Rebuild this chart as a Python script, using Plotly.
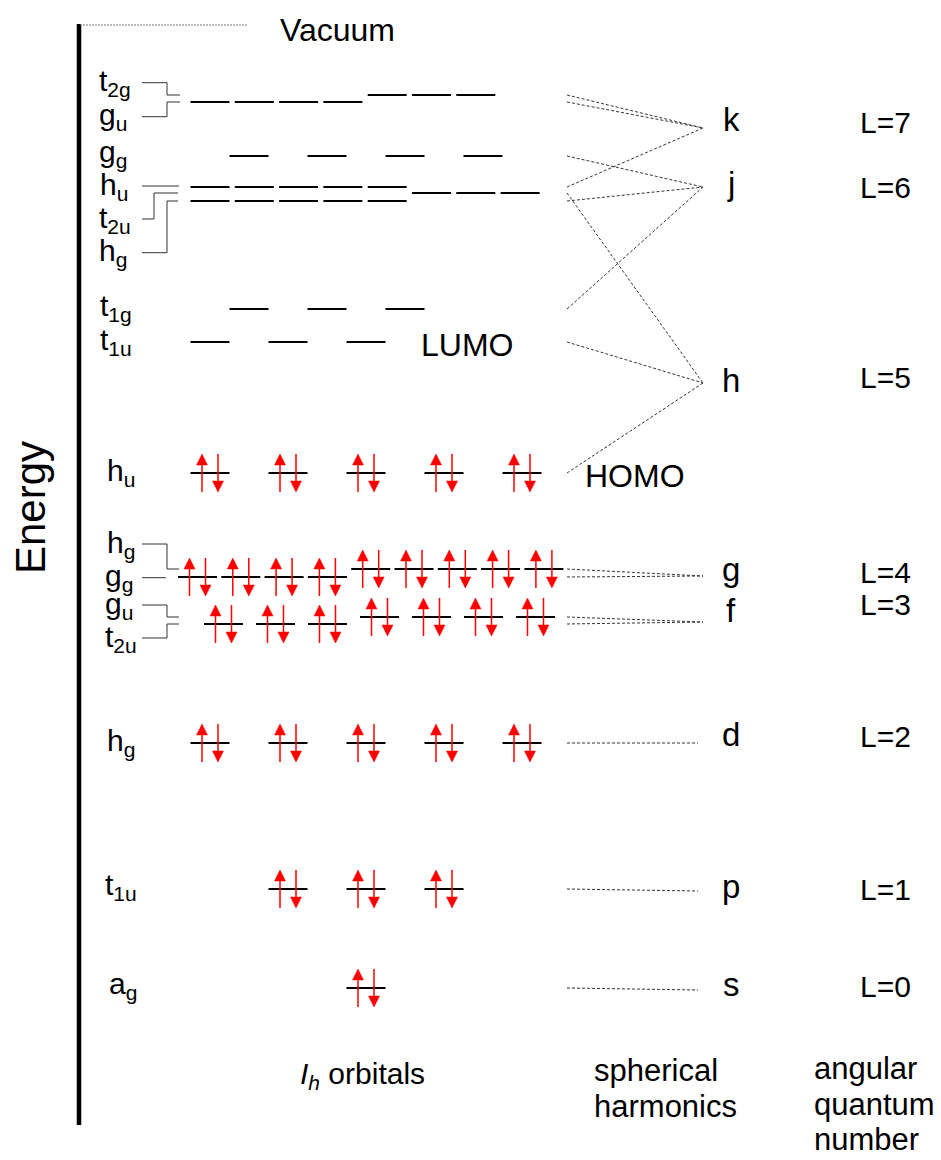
import plotly.graph_objects as go

# ---------------------------------------------------------------- data ----
# Ih molecular orbitals, bottom to top: label, energy (arbitrary units),
# degeneracy and whether the level is filled with an electron pair
orb_labels = ["a<sub>g</sub>", "t<sub>1u</sub>", "h<sub>g</sub>", "t<sub>2u</sub>",
              "g<sub>u</sub>", "g<sub>g</sub>", "h<sub>g</sub>", "h<sub>u</sub>",
              "t<sub>1u</sub>", "t<sub>1g</sub>", "h<sub>g</sub>", "t<sub>2u</sub>",
              "h<sub>u</sub>", "g<sub>g</sub>", "g<sub>u</sub>", "t<sub>2g</sub>"]
orb_energy = [17.2, 27.1, 41.7, 53.6, 54.3, 58.3, 59.1, 68.7,
              81.8, 85.1, 95.9, 96.7, 97.3, 100.4, 105.8, 106.5]
orb_degeneracy = [1, 3, 5, 3, 4, 4, 5, 5, 3, 3, 5, 3, 5, 4, 4, 3]
orb_occupied = [1, 1, 1, 1, 1, 1, 1, 1, 0, 0, 0, 0, 0, 0, 0, 0]
# spherical harmonic that each Ih level correlates with (index into sh_*)
orb_parent = [0, 1, 2, 3, 3, 4, 4, 5, 5, 6, 6, 5, 7, 6, 7, 7]

# spherical harmonics and their angular quantum numbers
sh_labels = ["s", "p", "d", "f", "g", "h", "j", "k"]
sh_L = [0, 1, 2, 3, 4, 5, 6, 7]
sh_energy = [17.0, 26.9, 41.7, 53.8, 58.4, 77.7, 97.3, 103.2]

vacuum_energy = 113.5
HOMO, LUMO = 7, 8

# -------------------------------------------------------------- layout ----
FIG_W, FIG_H = 941, 1160
PX_PER_E = 10.0
FONT = "Liberation Sans, Arial, sans-serif"


def ey(py):
    """page row -> energy coordinate (for placing text and connectors)"""
    return (FIG_H - py) / PX_PER_E


# slot grid for each level: (x of slot 0, slot pitch, first slot used)
orb_slots = [(210, 78, 2), (210, 78, 1), (210, 78, 0), (223.5, 52, 0),
             (223.5, 52, 3), (197.5, 43.3, 0), (197.5, 43.3, 4), (210, 78, 0),
             (210, 78, 0), (249, 78, 0), (210, 44.3, 0), (210, 44.3, 5),
             (210, 44.3, 0), (249, 78, 0), (210, 44.3, 0), (210, 44.3, 4)]
HALF = 19.5          # half length of a level bar
ARROW_DX = 8         # spin arrows offset from bar centre
ARROW_H = 1.9        # arrow half height (energy units)
HEAD_H = 1.1         # arrow head height (energy units)
HEAD_W = 5.5         # arrow head half width

# label column: (left x, row)
orb_label_pos = [(107, 985), (103, 886), (105, 742), (103, 638), (103, 605),
                 (103, 577.7), (105, 544), (105, 472), (98, 341), (98, 307),
                 (97, 252.7), (97, 219), (98, 186), (97, 153), (97, 116.7),
                 (97, 82.7)]
# bracket connectors: orbital -> (stub row, elbow x or None, end x)
brackets = {15: (82.7, 167, 180), 14: (116.7, 167, 180), 12: (186, None, 179),
            11: (219, 154, 178), 10: (252.7, 167, 178), 6: (544, 167, 179),
            5: (577.7, None, 166), 4: (605, 167, 179), 3: (638, 167, 179)}
STUB_X = 142

CORR_X0, CORR_X1 = 567, 703
sh_text_x, L_text_x = 731, 885
sh_text_y = [984, 886, 734, 610, 569, 380, 183, 119]
L_text_y = [986, 889, 736, 604, 572, 377, 187, 122]

fig = go.Figure()

# energy axis
fig.add_trace(go.Scatter(x=[79, 79], y=[ey(24), ey(1125)], mode="lines",
                         line=dict(color="black", width=4.5)))
# vacuum level
fig.add_trace(go.Scatter(x=[80, 247], y=[vacuum_energy, vacuum_energy], mode="lines",
                         line=dict(color="#777", width=1, dash="2px,1px")))

# level bars and spin arrows
bx, by = [], []
sx, sy = [], []
hx, hy = [], []
for i, (e, deg) in enumerate(zip(orb_energy, orb_degeneracy)):
    x0, pitch, first = orb_slots[i]
    for k in range(deg):
        c = x0 + pitch * (first + k)
        bx += [c - HALF, c + HALF, None]
        by += [e, e, None]
        if orb_occupied[i]:
            u = c - ARROW_DX
            d = c + ARROW_DX
            sx += [u, u, None, d, d, None]
            sy += [e - ARROW_H, e + ARROW_H - HEAD_H, None,
                   e + ARROW_H, e - ARROW_H + HEAD_H, None]
            hx += [u - HEAD_W, u + HEAD_W, u, u - HEAD_W, None,
                   d - HEAD_W, d + HEAD_W, d, d - HEAD_W, None]
            hy += [e + ARROW_H - HEAD_H, e + ARROW_H - HEAD_H, e + ARROW_H,
                   e + ARROW_H - HEAD_H, None,
                   e - ARROW_H + HEAD_H, e - ARROW_H + HEAD_H, e - ARROW_H,
                   e - ARROW_H + HEAD_H, None]

fig.add_trace(go.Scatter(x=bx, y=by, mode="lines",
                         line=dict(color="black", width=2)))
fig.add_trace(go.Scatter(x=sx, y=sy, mode="lines",
                         line=dict(color="#ff0000", width=1.5)))
fig.add_trace(go.Scatter(x=hx, y=hy, mode="lines", fill="toself",
                         fillcolor="#ff0000", line=dict(color="#ff0000", width=0.5)))

# label brackets
kx, ky = [], []
for i, (row, elbow, xend) in brackets.items():
    if elbow is None:
        kx += [STUB_X, xend, None]
        ky += [ey(row), ey(row), None]
    else:
        e = orb_energy[i]
        kx += [STUB_X, elbow, elbow, xend, None]
        ky += [ey(row), ey(row), e, e, None]
fig.add_trace(go.Scatter(x=kx, y=ky, mode="lines",
                         line=dict(color="#333", width=1)))

# correlation to spherical harmonics
cx, cy = [], []
for i, p in enumerate(orb_parent):
    cx += [CORR_X0, CORR_X1 if p > 2 else 698, None]
    cy += [orb_energy[i], sh_energy[p], None]
fig.add_trace(go.Scatter(x=cx, y=cy, mode="lines",
                         line=dict(color="#333", width=1, dash="3px,2px")))

ann = []


def txt(x, y, s, size=30, xanchor="left", **kw):
    ann.append(dict(x=x, y=y, text=s, showarrow=False, xanchor=xanchor,
                    yanchor="middle", font=dict(family=FONT, size=size, color="black"),
                    **kw))


for i, lab in enumerate(orb_labels):
    lx, ly = orb_label_pos[i]
    txt(lx, ey(ly), lab)

for j, lab in enumerate(sh_labels):
    txt(sh_text_x, ey(sh_text_y[j]), lab, size=33, xanchor="center")
    txt(L_text_x, ey(L_text_y[j]), f"L={sh_L[j]}", size=30, xanchor="center")

txt(337, ey(30), "Vacuum", size=32, xanchor="center")
txt(419, ey(345), "LUMO", size=32)
txt(583, ey(476), "HOMO", size=32)
txt(30, ey(508), "Energy", size=42, xanchor="center", textangle=-90)
txt(298, ey(1075), "<i>I<sub>h</sub></i> orbitals", size=30)
txt(592, ey(1070), "spherical", size=31)
txt(592, ey(1106), "harmonics", size=31)
txt(812, ey(1068), "angular", size=31)
txt(812, ey(1104), "quantum", size=31)
txt(812, ey(1139), "number", size=31)

fig.update_layout(
    width=FIG_W, height=FIG_H,
    margin=dict(l=0, r=0, t=0, b=0),
    paper_bgcolor="white", plot_bgcolor="white",
    showlegend=False, hovermode=False,
    xaxis=dict(range=[0, FIG_W], visible=False, fixedrange=True),
    yaxis=dict(range=[0, FIG_H / PX_PER_E], visible=False, fixedrange=True),
    annotations=ann,
)

fig.write_html("out.html", config={"displayModeBar": False})
